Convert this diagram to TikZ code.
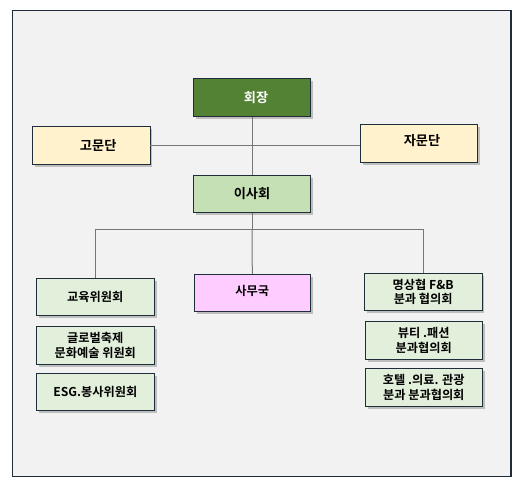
\documentclass[tikz,border=0pt]{standalone}
\usepackage{fontspec}
\newfontfamily\kr{Noto Sans CJK KR}[BoldFont={* Bold}]
\usetikzlibrary{shadows}
\definecolor{bgc}{HTML}{F2F2F2}
\definecolor{framec}{HTML}{1F2D3A}
\definecolor{linec}{HTML}{767676}
\definecolor{chairc}{HTML}{548235}
\definecolor{advc}{HTML}{FFF2CC}
\definecolor{boardc}{HTML}{C5E0B4}
\definecolor{officec}{HTML}{FFCCFF}
\definecolor{commc}{HTML}{E2EFDA}
\tikzset{
  orgbox/.style={draw=framec, line width=0.9pt, minimum height=37pt, align=center,
    font=\kr\bfseries\fontsize{12.2}{14.5}\selectfont, inner sep=1pt,
    drop shadow={shadow xshift=2.5pt, shadow yshift=-2.5pt, fill=black!45, opacity=0.5}},
  conn/.style={draw=linec, line width=1pt}
}
\begin{document}
\begin{tikzpicture}[x=1pt,y=-1pt]
\useasboundingbox (0,0) rectangle (524,485);
\fill[white] (0,0) rectangle (524,485);
\draw[framec, line width=1.2pt, fill=bgc] (12.7,10.3) rectangle (511,476.5);
% nodes
\node[orgbox, fill=chairc, text=white, minimum width=117.5pt, minimum height=38pt] (chair) at (252,97.2) {\fontsize{13.2}{15}\selectfont\hspace{8pt}회장};
\node[orgbox, fill=advc, minimum width=117.5pt, minimum height=38pt] (gomun) at (91.2,145.2) {\fontsize{13.2}{15}\selectfont\hspace{14pt}고문단};
\node[orgbox, fill=advc, minimum width=117.5pt, minimum height=38pt] (jamun) at (419,143.3) {\fontsize{13.2}{15}\selectfont\hspace{6pt}자문단\raisebox{0pt}[0pt][6pt]{}};
\node[orgbox, fill=boardc, minimum width=117.5pt, minimum height=37pt] (board) at (252,193.7) {\fontsize{13.2}{15}\selectfont 이사회};
\node[orgbox, fill=officec, minimum width=116.5pt, minimum height=37pt] (office) at (252.3,292.7) {사무국\raisebox{0pt}[0pt][5pt]{}};
\node[orgbox, fill=commc, minimum width=118pt, minimum height=37pt] (edu) at (95.3,296.8) {교육위원회};
\node[orgbox, fill=commc, minimum width=118pt, minimum height=38pt] (fest) at (95.3,345.3) {글로벌축제\\문화예술 위원회};
\node[orgbox, fill=commc, minimum width=118pt, minimum height=37pt] (esg) at (95.3,391.8) {ESG.봉사위원회};
\node[orgbox, fill=commc, minimum width=117.5pt, minimum height=37pt] (fnb) at (423.2,291.8) {명상협 F\&B\\분과 협의회};
\node[orgbox, fill=commc, minimum width=117pt, minimum height=37.7pt] (beauty) at (423.8,340.2) {뷰티 .패션\\분과협의회};
\node[orgbox, fill=commc, minimum width=117pt, minimum height=37.7pt] (hotel) at (423.8,387.5) {호텔 .의료. 관광\\분과 분과협의회};
% connectors
\coordinate (hub) at (252,229);
\coordinate (lt) at (95.7,229);
\coordinate (rt) at (423.3,229);
\draw[conn] (chair.south) -- (board.north);
\draw[conn] (gomun.east) -- (jamun.west |- gomun.east);
\draw[conn] (board.south) -- (hub);
\draw[conn] (lt) -- (rt);
\draw[conn] (lt) -- (lt |- edu.north);
\draw[conn] (hub) -- (office.north);
\draw[conn] (rt) -- (rt |- fnb.north);
\end{tikzpicture}
\end{document}
